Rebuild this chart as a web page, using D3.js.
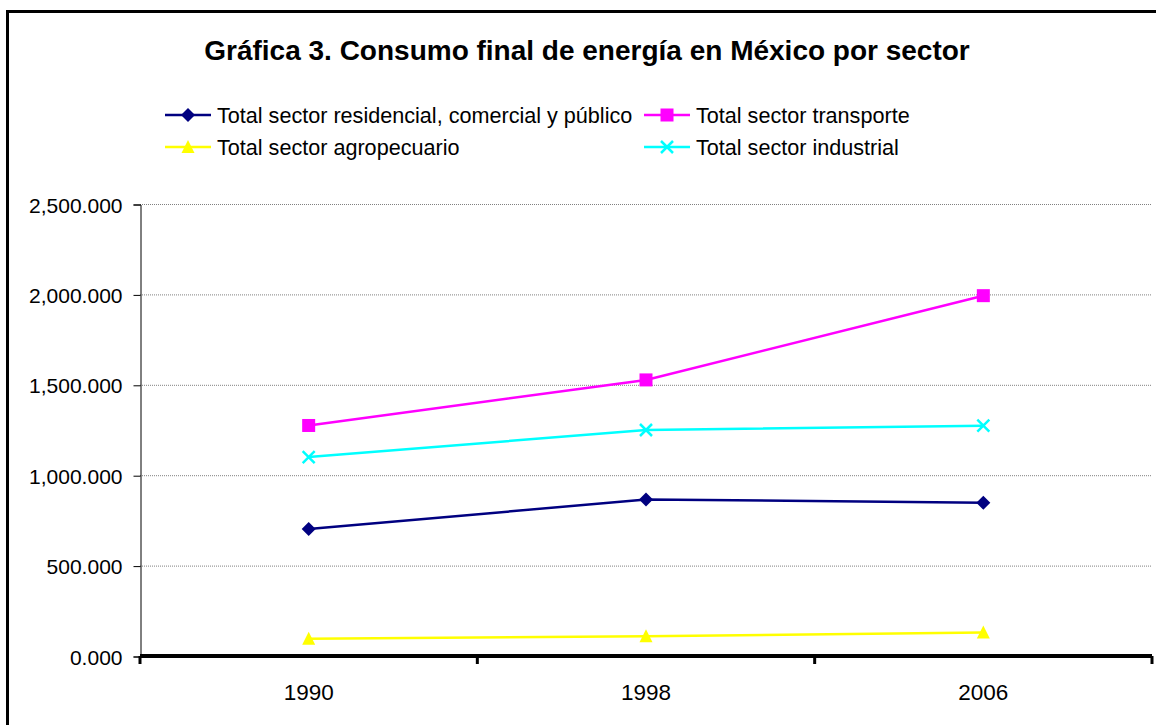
<!DOCTYPE html>
<meta charset="utf-8">
<head>
    <script src="https://d3js.org/d3.v7.min.js"></script>
    <style>
        body { margin: 0; background: #fff; }
        text { font-family: "Liberation Sans", Arial, sans-serif; fill: #000; }
        .grid line { stroke: #808080; stroke-width: 1; stroke-dasharray: 1,1; }
    </style>
</head>
<body>
<div id="chart"></div>
<script>
    // data
    var years = ["1990", "1998", "2006"];
    var residencial = [702, 866, 848];
    var transporte = [1275, 1527, 1993];
    var agropecuario = [95, 109, 130];
    var industrial = [1100, 1250, 1274];
    var yTicks = [0, 500, 1000, 1500, 2000, 2500];

    var series = [
        { name: "Total sector residencial, comercial y público", values: residencial, color: "#000080", marker: "diamond" },
        { name: "Total sector transporte", values: transporte, color: "#FF00FF", marker: "square" },
        { name: "Total sector agropecuario", values: agropecuario, color: "#FFFF00", marker: "triangle" },
        { name: "Total sector industrial", values: industrial, color: "#00FFFF", marker: "cross" }
    ];

    var W = 1156, H = 725;
    var plot = { left: 140, right: 1152, top: 204, bottom: 656 };

    var svg = d3.select("#chart").append("svg")
        .attr("width", W)
        .attr("height", H);

    // outer frame
    svg.append("rect")
        .attr("x", 7.5).attr("y", 11.5)
        .attr("width", 1200).attr("height", 800)
        .attr("fill", "none")
        .attr("stroke", "#000")
        .attr("stroke-width", 3);

    // title
    svg.append("text")
        .attr("x", 587).attr("y", 60)
        .attr("text-anchor", "middle")
        .style("font-size", "28px")
        .style("font-weight", "bold")
        .text("Gráfica 3. Consumo final de energía en México por sector");

    var x = d3.scaleBand().domain(years).range([plot.left, plot.right]);
    var y = d3.scaleLinear().domain([0, 2500]).range([plot.bottom, plot.top]);

    // gridlines
    svg.append("g").attr("class", "grid")
        .selectAll("line")
        .data(yTicks.filter(function (d) { return d > 0; }))
        .enter().append("line")
        .attr("x1", plot.left).attr("x2", plot.right)
        .attr("y1", function (d) { return y(d) + 0.5; })
        .attr("y2", function (d) { return y(d) + 0.5; });

    // y axis
    var yAxis = svg.append("g")
        .attr("transform", "translate(" + (plot.left + 0.5) + ",0.5)")
        .call(d3.axisLeft(y).tickValues(yTicks).tickFormat(d3.format(",.3f")).tickSize(7).tickPadding(11));
    yAxis.selectAll("path, line").attr("stroke", "#000");
    yAxis.selectAll("text").style("font-size", "21px").attr("dy", "0.36em");

    // x axis
    var xAxis = svg.append("g")
        .attr("transform", "translate(0," + plot.bottom + ")");
    xAxis.append("line")
        .attr("x1", plot.left).attr("x2", plot.right)
        .attr("stroke", "#000").attr("stroke-width", 4);
    var edges = years.map(function (d) { return x(d); }).concat([plot.right]);
    xAxis.selectAll(".tk").data(edges).enter().append("line")
        .attr("class", "tk")
        .attr("x1", function (d) { return d; }).attr("x2", function (d) { return d; })
        .attr("y1", 0).attr("y2", 8)
        .attr("stroke", "#000").attr("stroke-width", 3);
    xAxis.selectAll(".lbl").data(years).enter().append("text")
        .attr("class", "lbl")
        .attr("x", function (d) { return x(d) + x.bandwidth() / 2; })
        .attr("y", 44)
        .attr("text-anchor", "middle")
        .style("font-size", "22.5px")
        .text(function (d) { return d; });

    function drawMarker(g, type, color) {
        if (type === "diamond") {
            g.append("path").attr("d", "M0,-7L7,0L0,7L-7,0Z").attr("fill", color);
        } else if (type === "square") {
            g.append("rect").attr("x", -6.5).attr("y", -6.5).attr("width", 13).attr("height", 13).attr("fill", color);
        } else if (type === "triangle") {
            g.append("path").attr("d", "M0,-7L6.5,6L-6.5,6Z").attr("fill", color);
        } else {
            g.append("path").attr("d", "M-6,-6L6,6M-6,6L6,-6").attr("stroke", color).attr("stroke-width", 2.5).attr("fill", "none");
        }
    }

    var line = d3.line()
        .x(function (d, i) { return x(years[i]) + x.bandwidth() / 2; })
        .y(function (d) { return y(d); });

    // lines and markers
    series.forEach(function (s) {
        svg.append("path")
            .datum(s.values)
            .attr("d", line)
            .attr("fill", "none")
            .attr("stroke", s.color)
            .attr("stroke-width", 2.5);
        s.values.forEach(function (v, i) {
            var g = svg.append("g")
                .attr("transform", "translate(" + (x(years[i]) + x.bandwidth() / 2) + "," + y(v) + ")");
            drawMarker(g, s.marker, s.color);
        });
    });

    // legend
    var legendPos = [
        { x: 165, y: 115 }, { x: 644, y: 115 },
        { x: 165, y: 147 }, { x: 644, y: 147 }
    ];
    series.forEach(function (s, i) {
        var p = legendPos[i];
        var g = svg.append("g").attr("transform", "translate(" + p.x + "," + p.y + ")");
        g.append("line").attr("x1", 0).attr("x2", 46)
            .attr("stroke", s.color).attr("stroke-width", 2.5);
        drawMarker(g.append("g").attr("transform", "translate(23,0)"), s.marker, s.color);
        g.append("text")
            .attr("x", 52).attr("y", 0).attr("dy", "0.36em")
            .style("font-size", "21.6px")
            .text(s.name);
    });
</script>
</body>
